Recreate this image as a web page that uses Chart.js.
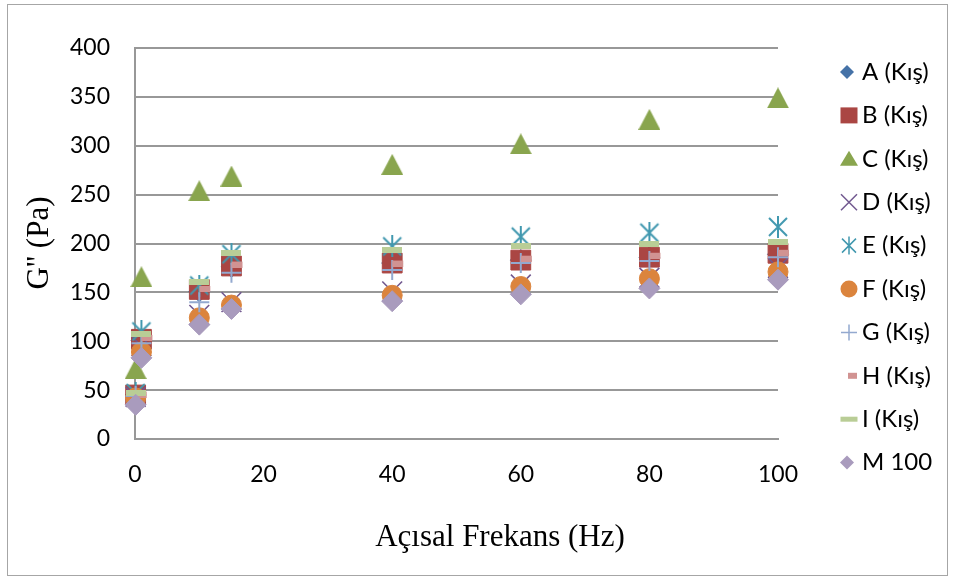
<!DOCTYPE html>
<html>
<head>
<meta charset="utf-8">
<script src="https://cdn.jsdelivr.net/npm/chart.js@4.4.1/dist/chart.umd.min.js"></script>
<style>
  body { margin: 0; background: #fff; }
  canvas { display: block; }
</style>
</head>
<body>
<canvas id="chartGpp" width="954" height="580"></canvas>
<script>
// açısal frekans (Hz)
const freq = [0.1, 1, 10, 15, 40, 60, 80, 100];

// G'' (Pa) per sample
const serA = [45, 101, 151, 176, 180, 183, 186, 189];
const serB = [45, 102, 153, 177, 180, 183, 186, 190];
const serC = [72, 166, 254, 269, 281, 302, 327, 349];
const serD = [43, 95, 127, 140, 151, 158, 165, 175];
const serE = [47, 110, 157, 189, 197, 207, 211, 217];
const serF = [42, 89, 124, 137, 147, 156, 164, 171];
const serG = [44, 98, 140, 170, 173, 180, 182, 186];
const serH = [46, 104, 154, 179, 180, 185, 188, 191];
const serI = [47, 107, 161, 190, 193, 197, 199, 202];
const serM = [35, 83, 117, 133, 141, 148, 154, 163];

const seriesNames = ["A (Kış)", "B (Kış)", "C (Kış)", "D (Kış)", "E (Kış)", "F (Kış)", "G (Kış)", "H (Kış)", "I (Kış)", "M 100"];
const seriesValues = [serA, serB, serC, serD, serE, serF, serG, serH, serI, serM];

const xTicks = [0, 20, 40, 60, 80, 100];
const yTicks = [0, 50, 100, 150, 200, 250, 300, 350, 400];

const xTitle = "Açısal Frekans (Hz)";
const yTitle = "G'' (Pa)";

const colors = ["#4572A7", "#AA4643", "#89A54E", "#71588F", "#4198AF", "#DB843D", "#93A9CF", "#D19392", "#B9CD96", "#A99BBD"];
const kinds = ["diamond", "square", "triangle", "x", "star", "circle", "plus", "dashH", "dashI", "diamond"];

function makeCanvas(w, h, draw) {
  const c = document.createElement("canvas");
  c.width = w;
  c.height = h;
  draw(c.getContext("2d"));
  return c;
}

// triangle centred on its box, as in the original
const triMarker = makeCanvas(22, 21, ctx => {
  ctx.fillStyle = colors[2];
  ctx.beginPath();
  ctx.moveTo(11, 0);
  ctx.lineTo(22, 21);
  ctx.lineTo(0, 21);
  ctx.closePath();
  ctx.fill();
});

const starMarker = makeCanvas(22, 22, ctx => {
  ctx.strokeStyle = colors[4];
  ctx.lineWidth = 2;
  ctx.beginPath();
  ctx.moveTo(2, 2); ctx.lineTo(20, 20);
  ctx.moveTo(20, 2); ctx.lineTo(2, 20);
  ctx.moveTo(11, 0); ctx.lineTo(11, 22);
  ctx.stroke();
});

const dashHMarker = makeCanvas(24, 7, ctx => {
  ctx.fillStyle = colors[7];
  ctx.fillRect(12, 1, 11, 6);
});

const dashIMarker = makeCanvas(20, 6, ctx => {
  ctx.fillStyle = colors[8];
  ctx.fillRect(0, 0, 20, 6);
});

function pointStyleFor(kind) {
  switch (kind) {
    case "diamond": return { pointStyle: "rectRot", pointRadius: 10.5 };
    case "square": return { pointStyle: "rect", pointRadius: 14 };
    case "triangle": return { pointStyle: triMarker, pointRadius: 11 };
    case "x": return { pointStyle: "crossRot", pointRadius: 14, pointBorderWidth: 1.6 };
    case "star": return { pointStyle: starMarker, pointRadius: 10 };
    case "circle": return { pointStyle: "circle", pointRadius: 10 };
    case "plus": return { pointStyle: "cross", pointRadius: 10, pointBorderWidth: 2 };
    case "dashH": return { pointStyle: dashHMarker, pointRadius: 6 };
    case "dashI": return { pointStyle: dashIMarker, pointRadius: 8 };
  }
}

const datasets = seriesNames.map((name, i) => {
  return Object.assign({
    label: name,
    data: freq.map((f, j) => ({ x: f, y: seriesValues[i][j] })),
    showLine: false,
    clip: false,
    pointBackgroundColor: colors[i],
    pointBorderColor: colors[i],
    pointBorderWidth: 1,
    // later series sit on top, like the original
    order: seriesNames.length - 1 - i
  }, pointStyleFor(kinds[i]));
});

function drawMarker(ctx, kind, x, y, color) {
  ctx.save();
  ctx.fillStyle = color;
  ctx.strokeStyle = color;
  ctx.beginPath();
  if (kind === "diamond") {
    ctx.moveTo(x, y - 7); ctx.lineTo(x + 7, y); ctx.lineTo(x, y + 7); ctx.lineTo(x - 7, y);
    ctx.closePath(); ctx.fill();
  } else if (kind === "square") {
    ctx.fillRect(x - 8.5, y - 8, 17, 16);
  } else if (kind === "triangle") {
    ctx.moveTo(x, y - 8); ctx.lineTo(x + 9, y + 7); ctx.lineTo(x - 9, y + 7);
    ctx.closePath(); ctx.fill();
  } else if (kind === "x") {
    ctx.lineWidth = 1.5;
    ctx.moveTo(x - 8, y - 8); ctx.lineTo(x + 8, y + 8);
    ctx.moveTo(x + 8, y - 8); ctx.lineTo(x - 8, y + 8);
    ctx.stroke();
  } else if (kind === "star") {
    ctx.lineWidth = 1.5;
    ctx.moveTo(x - 7, y - 7); ctx.lineTo(x + 7, y + 7);
    ctx.moveTo(x + 7, y - 7); ctx.lineTo(x - 7, y + 7);
    ctx.moveTo(x, y - 9); ctx.lineTo(x, y + 9);
    ctx.stroke();
  } else if (kind === "circle") {
    ctx.arc(x, y, 8.5, 0, Math.PI * 2); ctx.fill();
  } else if (kind === "plus") {
    ctx.lineWidth = 1.5;
    ctx.moveTo(x - 8, y); ctx.lineTo(x + 8, y);
    ctx.moveTo(x, y - 8); ctx.lineTo(x, y + 8);
    ctx.stroke();
  } else if (kind === "dashH") {
    ctx.fillRect(x - 1, y - 3, 9, 6);
  } else if (kind === "dashI") {
    ctx.fillRect(x - 8.5, y - 2.5, 17, 5);
  }
  ctx.restore();
}

const framePlugin = {
  id: "frame",
  afterDraw(chart) {
    const ctx = chart.ctx;
    ctx.save();
    ctx.strokeStyle = "#a6a6a6";
    ctx.lineWidth = 1;
    ctx.strokeRect(7.5, 4.5, 940, 571);

    ctx.fillStyle = "#000";
    ctx.font = "31px 'Liberation Serif'";
    ctx.textAlign = "center";
    ctx.textBaseline = "middle";
    ctx.fillText(xTitle, 500, 538);
    ctx.translate(40, 243);
    ctx.rotate(-Math.PI / 2);
    ctx.fillText(yTitle, 0, 0);
    ctx.restore();

    // legend
    ctx.save();
    ctx.font = "24px Lato";
    ctx.fillStyle = "#000";
    ctx.textAlign = "left";
    ctx.textBaseline = "middle";
    seriesNames.forEach((name, i) => {
      const y = 72 + i * 43.4;
      drawMarker(ctx, kinds[i], kinds[i] === "diamond" ? 847 : 849, y, colors[i]);
      ctx.fillText(name, 862, y);
    });
    ctx.restore();
  }
};

Chart.defaults.font.family = "Lato";
Chart.defaults.font.size = 23;
Chart.defaults.color = "#000";

new Chart(document.getElementById("chartGpp"), {
  type: "scatter",
  data: { datasets: datasets },
  options: {
    responsive: false,
    animation: false,
    layout: { padding: { left: 0, top: 48, right: 176, bottom: 0 } },
    plugins: {
      legend: { display: false },
      tooltip: { enabled: false }
    },
    scales: {
      x: {
        type: "linear",
        min: xTicks[0],
        max: xTicks[xTicks.length - 1],
        afterBuildTicks: scale => { scale.ticks = xTicks.map(v => ({ value: v })); },
        afterFit: scale => { scale.height = 141; },
        grid: { display: false, drawTicks: false },
        border: { display: true, color: "#989898", width: 2 },
        ticks: { padding: 22, color: "#000" }
      },
      y: {
        type: "linear",
        min: yTicks[0],
        max: yTicks[yTicks.length - 1],
        afterBuildTicks: scale => { scale.ticks = yTicks.map(v => ({ value: v })); },
        afterFit: scale => { scale.width = 135; },
        grid: { color: "#989898", lineWidth: 2, drawTicks: false },
        border: { display: true, color: "#989898", width: 2 },
        ticks: { padding: 25, color: "#000" }
      }
    }
  },
  plugins: [framePlugin]
});
</script>
</body>
</html>
